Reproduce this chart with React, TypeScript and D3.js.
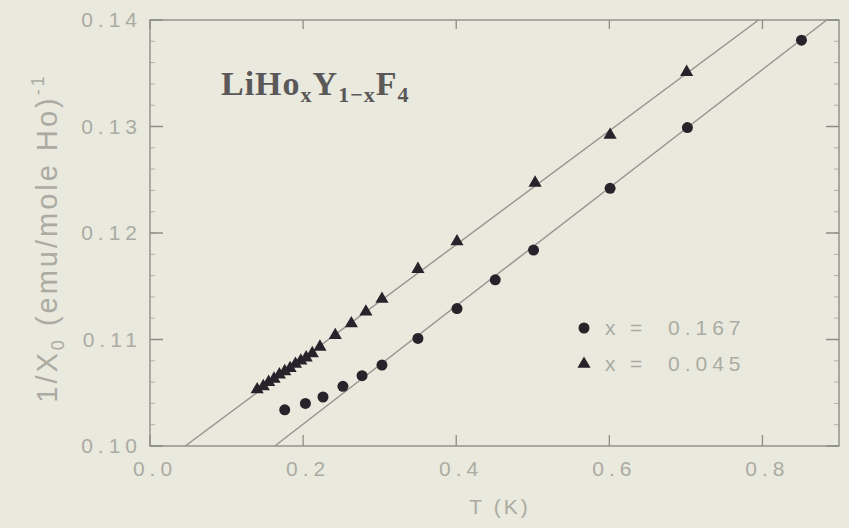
import React from "react";
import * as d3 from "d3";

const W = 849;
const H = 528;

// x = 0.167 (circles)
const circleT = [0.176, 0.203, 0.226, 0.252, 0.277, 0.303, 0.35, 0.401, 0.451, 0.501, 0.601, 0.702, 0.851];
const circleV = [0.1034, 0.104, 0.1046, 0.1056, 0.1066, 0.1076, 0.1101, 0.1129, 0.1156, 0.1184, 0.1242, 0.1299, 0.1381];

// x = 0.045 (triangles)
const triT = [0.14, 0.148, 0.155, 0.162, 0.169, 0.176, 0.183, 0.19, 0.197, 0.204, 0.212, 0.222, 0.242, 0.263, 0.282, 0.303, 0.35, 0.401, 0.503, 0.601, 0.701];
const triV = [0.1053, 0.1056, 0.106, 0.1063, 0.1067, 0.107, 0.1073, 0.1077, 0.108, 0.1083, 0.1087, 0.1093, 0.1104, 0.1115, 0.1126, 0.1138, 0.1166, 0.1192, 0.1247, 0.1292, 0.1351];

// fitted straight lines (endpoints)
const fitCircleT = [0.163, 0.884];
const fitCircleV = [0.1, 0.14];
const fitTriT = [0.046, 0.795];
const fitTriV = [0.1, 0.14];

const xTicks = [0.0, 0.2, 0.4, 0.6, 0.8];
const xTickLabels = ["0.0", "0.2", "0.4", "0.6", "0.8"];
const yTicks = [0.1, 0.11, 0.12, 0.13, 0.14];
const yTickLabels = ["0.10", "0.11", "0.12", "0.13", "0.14"];
const yMinor = d3.range(0.1, 0.1401, 0.002);

const legendNames = ["x", "x"];
const legendValues = ["0.167", "0.045"];

const L = 150, R = 839, T = 20, B = 446;
const sans = "Liberation Sans, Arial, sans-serif";

export default function App() {
  const x = d3.scaleLinear().domain([0, 0.9]).range([L, R]);
  const y = d3.scaleLinear().domain([0.1, 0.14]).range([B, T]);
  const line = d3.line<[number, number]>().x(d => x(d[0])).y(d => y(d[1]));
  const tri = d3.symbol().type(d3.symbolTriangle).size(75)();
  const frameCol = "#8e8e88";
  const textCol = "#ababa3";
  const markCol = "#26232a";
  const lineCol = "#9c9290";

  return (
    <svg width={W} height={H} style={{ position: "absolute", left: 0, top: 0 }}>
      <rect x={0} y={0} width={W} height={H} fill="#e9e9dd" />
      <defs>
        <clipPath id="plotclip">
          <rect x={L} y={T} width={R - L} height={B - T} />
        </clipPath>
      </defs>
      {/* frame */}
      <rect x={L} y={T} width={R - L} height={B - T} fill="none" stroke={frameCol} strokeWidth={1.4} />
      {/* y ticks */}
      {yTicks.map((t, i) => (
        <g key={"yt" + i}>
          <line x1={L} x2={L + 13} y1={y(t)} y2={y(t)} stroke={frameCol} strokeWidth={1.5} />
          <line x1={R} x2={R - 13} y1={y(t)} y2={y(t)} stroke={frameCol} strokeWidth={1.5} />
          <text x={L - 8} y={y(t)} dy="0.35em" textAnchor="end" fontFamily={sans} fontSize={21} letterSpacing={5} fill={textCol}>
            {yTickLabels[i]}
          </text>
        </g>
      ))}
      {yMinor.map((t, i) => (
        <g key={"ym" + i}>
          <line x1={L} x2={L + 5} y1={y(t)} y2={y(t)} stroke={frameCol} strokeWidth={1} opacity={0.6} />
          <line x1={R} x2={R - 5} y1={y(t)} y2={y(t)} stroke={frameCol} strokeWidth={1} opacity={0.6} />
        </g>
      ))}
      {/* x ticks */}
      {xTicks.map((t, i) => (
        <g key={"xt" + i}>
          <line x1={x(t)} x2={x(t)} y1={B} y2={B - 11} stroke={frameCol} strokeWidth={1.3} />
          <line x1={x(t)} x2={x(t)} y1={T} y2={T + 9} stroke={frameCol} strokeWidth={1.3} />
          <text x={x(t) + 5} y={469} dy="0.35em" textAnchor="middle" fontFamily={sans} fontSize={21} letterSpacing={5} fill={textCol}>
            {xTickLabels[i]}
          </text>
        </g>
      ))}
      {/* axis titles */}
      <text x={500} y={507} dy="0.35em" textAnchor="middle" fontFamily={sans} fontSize={21} letterSpacing={3} fill={textCol}>
        T (K)
      </text>
      <text transform="translate(47,238) rotate(-90)" textAnchor="middle" dy="0.35em" fontFamily={sans} fontSize={29} letterSpacing={3} fill={textCol}>
        1/X<tspan fontSize={18} dy="7">0</tspan>
        <tspan dy="-7"> (emu/mole Ho)</tspan>
        <tspan fontSize={18} dy="-13">-1</tspan>
      </text>
      {/* compound label */}
      <text x={221} y={95} fontFamily="Liberation Serif, Times New Roman, serif" fontSize={34} fontWeight={600} letterSpacing={1} fill="#5a5858">
        LiHo<tspan fontSize={22} dy="7">x</tspan>
        <tspan dy="-7">Y</tspan>
        <tspan fontSize={22} dy="7">1−x</tspan>
        <tspan dy="-7">F</tspan>
        <tspan fontSize={22} dy="7">4</tspan>
      </text>
      {/* fit lines */}
      <g clipPath="url(#plotclip)">
        <path d={line(fitCircleT.map((t, i) => [t, fitCircleV[i]]) as [number, number][]) || ""} fill="none" stroke={lineCol} strokeWidth={1.4} />
        <path d={line(fitTriT.map((t, i) => [t, fitTriV[i]]) as [number, number][]) || ""} fill="none" stroke={lineCol} strokeWidth={1.4} />
      </g>
      {/* markers */}
      {circleT.map((t, i) => (
        <circle key={"c" + i} cx={x(t)} cy={y(circleV[i])} r={5.5} fill={markCol} />
      ))}
      {triT.map((t, i) => (
        <path key={"t" + i} d={tri || ""} transform={`translate(${x(t)},${y(triV[i])})`} fill={markCol} />
      ))}
      {/* legend */}
      <circle cx={584} cy={328} r={5.5} fill={markCol} />
      <path d={tri || ""} transform="translate(584,364)" fill={markCol} />
      {[328, 364].map((ly, i) => (
        <g key={"lg" + i} fontFamily={sans} fontSize={21} fill={textCol}>
          <text x={605} y={ly} dy="0.35em">{legendNames[i]}</text>
          <text x={630} y={ly} dy="0.35em">=</text>
          <text x={668} y={ly} dy="0.35em" letterSpacing={5}>{legendValues[i]}</text>
        </g>
      ))}
    </svg>
  );
}
